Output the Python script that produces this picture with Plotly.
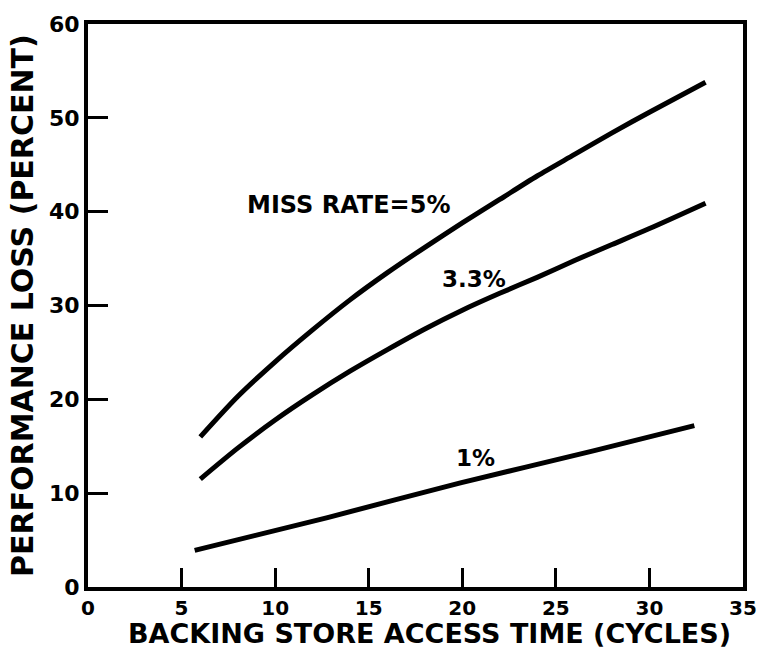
import plotly.graph_objects as go

# Backing store access time (cycles) vs. performance loss (percent)
x_5 = [6, 8, 10, 12, 14, 16, 18, 20, 22, 24, 26, 28, 30, 33]
y_5 = [16.0, 20.3, 24.0, 27.4, 30.6, 33.5, 36.2, 38.8, 41.3, 43.8, 46.1, 48.4, 50.6, 53.8]

x_33 = [6, 8, 10, 12, 14, 16, 18, 20, 22, 24, 26, 28, 30, 33]
y_33 = [11.5, 14.8, 17.8, 20.5, 23.0, 25.3, 27.5, 29.5, 31.3, 33.0, 34.8, 36.5, 38.2, 40.9]

x_1 = [5.7, 12.8, 19.9, 27.0, 32.4]
y_1 = [3.9, 7.4, 11.1, 14.5, 17.2]

x_ticks = [0, 5, 10, 15, 20, 25, 30, 35]
y_ticks = [0, 10, 20, 30, 40, 50, 60]

curve_labels = [
    ("MISS RATE=5%", 13.9, 40.7, 24),
    ("3.3%", 20.6, 32.8, 23),
    ("1%", 20.7, 13.8, 23),
]

FONT = "DejaVu Sans"

fig = go.Figure()
for xs, ys in [(x_5, y_5), (x_33, y_33), (x_1, y_1)]:
    fig.add_trace(go.Scatter(
        x=xs, y=ys, mode="lines",
        line=dict(color="black", width=5, shape="spline", smoothing=0.8),
        showlegend=False, hoverinfo="skip",
    ))

for text, lx, ly, size in curve_labels:
    fig.add_annotation(x=lx, y=ly, text=f"<b>{text}</b>", showarrow=False,
                       font=dict(family=FONT, size=size, color="black"),
                       xanchor="center", yanchor="middle")

axis_common = dict(
    showline=True, linewidth=4, linecolor="black", mirror=True,
    ticks="inside", tickwidth=3, tickcolor="black",
    showgrid=False, zeroline=False,
)

fig.update_xaxes(range=[0, 35], tickvals=x_ticks, ticklen=19,
                 tickfont=dict(family=FONT, size=20, color="black", weight="bold"),
                 **axis_common)
fig.update_yaxes(range=[0, 60], tickvals=y_ticks, ticklen=20,
                 tickfont=dict(family=FONT, size=22, color="black", weight="bold"),
                 **axis_common)

# Axis titles
fig.add_annotation(xref="paper", yref="paper", x=0.522, y=-0.082,
                   text="<b>BACKING STORE ACCESS TIME (CYCLES)</b>",
                   showarrow=False, xanchor="center", yanchor="middle",
                   font=dict(family=FONT, size=27, color="black"))
fig.add_annotation(xref="paper", yref="paper", x=-0.1, y=0.5,
                   text="<b>PERFORMANCE LOSS (PERCENT)</b>", textangle=-90,
                   showarrow=False, xanchor="center", yanchor="middle",
                   font=dict(family=FONT, size=30, color="black"))

fig.update_layout(
    width=769, height=650,
    margin=dict(l=88, r=24, t=20, b=63),
    plot_bgcolor="white", paper_bgcolor="white",
)

fig.write_html("out.html")
